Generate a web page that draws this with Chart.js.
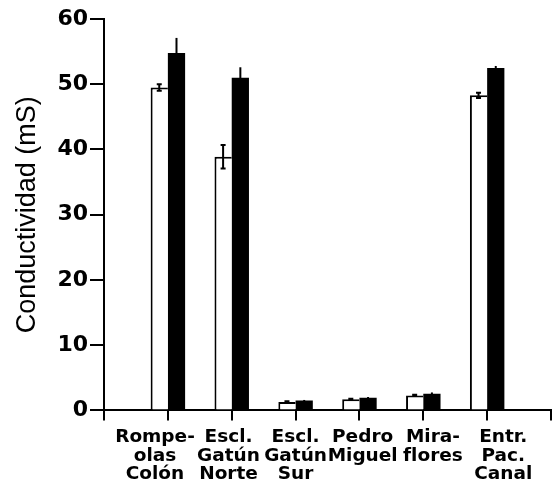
<!DOCTYPE html>
<html lang="es">
<head>
    <meta charset="UTF-8">
    <title>Conductividad</title>
    <script src="https://cdn.jsdelivr.net/npm/chart.js"></script>
    <style>
        html, body { margin: 0; padding: 0; background: #fff; }
        #wrap { width: 552px; height: 495px; }
    </style>
</head>
<body>
    <div id="wrap"><canvas id="chart"></canvas></div>

    <script>
        // Sitios (primera y última posición vacías, como en la figura);
        // los espacios corren cada rótulo como en el original
        const sitios = [
            '',
            ['Rompe-    ', 'olas    ', 'Colón    '],
            ['Escl. ', 'Gatún ', 'Norte '],
            ['Escl.', 'Gatún', 'Sur'],
            [' Pedro', ' Miguel'],
            ['   Mira-', '   flores'],
            ['     Entr.', '     Pac.', '     Canal'],
            ''
        ];
        const serieBlanca = [null, 49.5, 38.9, 1.3, 1.7, 2.3, 48.3, null];
        const serieNegra  = [null, 54.8, 51.0, 1.5, 1.95, 2.55, 52.5, null];
        const errBlanca   = [0, 0.5, 1.8, 0.1, 0.1, 0.1, 0.4, 0];
        const errNegra    = [0, 2.3, 1.6, 0.1, 0.1, 0.2, 0.3, 0];
        const ticksY = [0, 10, 20, 30, 40, 50, 60];

        // Barras de error
        const errorBars = {
            id: 'errorBars',
            afterDatasetsDraw(chart) {
                const ctx = chart.ctx;
                const y = chart.scales.y;
                chart.data.datasets.forEach((ds, i) => {
                    const meta = chart.getDatasetMeta(i);
                    meta.data.forEach((bar, j) => {
                        const v = ds.data[j];
                        const e = ds.errores[j];
                        if (v == null || !e) return;
                        const top = y.getPixelForValue(v + e);
                        const bot = y.getPixelForValue(v - e);
                        ctx.save();
                        ctx.strokeStyle = '#000';
                        ctx.lineWidth = 2;
                        ctx.beginPath();
                        ctx.moveTo(bar.x, top);
                        ctx.lineTo(bar.x, bot);
                        if (ds.conTapa) {
                            ctx.moveTo(bar.x - 2.5, top);
                            ctx.lineTo(bar.x + 2.5, top);
                            ctx.moveTo(bar.x - 2.5, bot);
                            ctx.lineTo(bar.x + 2.5, bot);
                        }
                        ctx.stroke();
                        ctx.restore();
                    });
                });
            }
        };

        new Chart(document.getElementById('chart'), {
            type: 'bar',
            data: {
                labels: sitios,
                datasets: [{
                    data: serieBlanca,
                    errores: errBlanca,
                    conTapa: true,
                    backgroundColor: '#fff',
                    borderColor: '#000',
                    borderWidth: { top: 2, left: 2, right: 0, bottom: 0 },
                    borderSkipped: false
                }, {
                    data: serieNegra,
                    errores: errNegra,
                    conTapa: false,
                    backgroundColor: '#000',
                    borderColor: '#000',
                    borderWidth: 0
                }]
            },
            options: {
                responsive: true,
                maintainAspectRatio: false,
                animation: false,
                categoryPercentage: 0.54,
                barPercentage: 1.0,
                layout: { padding: { left: 11, top: 19, right: 1, bottom: 4 } },
                plugins: {
                    legend: { display: false },
                    tooltip: { enabled: false }
                },
                scales: {
                    x: {
                        offset: false,
                        afterFit(scale) {
                            scale.paddingLeft = 0;
                            scale.paddingRight = 0;
                        },
                        grid: {
                            offset: false,
                            drawOnChartArea: false,
                            drawTicks: true,
                            tickLength: 10,
                            color: '#000',
                            lineWidth: 2
                        },
                        border: { display: true, color: '#000', width: 2 },
                        ticks: {
                            color: '#000',
                            autoSkip: false,
                            maxRotation: 0,
                            minRotation: 0,
                            padding: 7,
                            font: { family: 'DejaVu Sans', weight: 'bold', size: 18.5, lineHeight: 1.02 }
                        }
                    },
                    y: {
                        min: 0,
                        max: 60,
                        afterBuildTicks(scale) {
                            scale.ticks = ticksY.map(v => ({ value: v }));
                        },
                        grid: {
                            drawOnChartArea: false,
                            drawTicks: true,
                            tickLength: 14,
                            color: '#000',
                            lineWidth: 2
                        },
                        border: { display: true, color: '#000', width: 2 },
                        ticks: {
                            color: '#000',
                            padding: 2,
                            font: { family: 'DejaVu Sans', weight: 'bold', size: 22 }
                        },
                        title: {
                            display: true,
                            text: 'Conductividad (mS)',
                            color: '#000',
                            padding: { top: 0, bottom: 12 },
                            font: { family: 'Liberation Sans', size: 27 }
                        }
                    }
                }
            },
            plugins: [errorBars]
        });
    </script>
</body>
</html>
